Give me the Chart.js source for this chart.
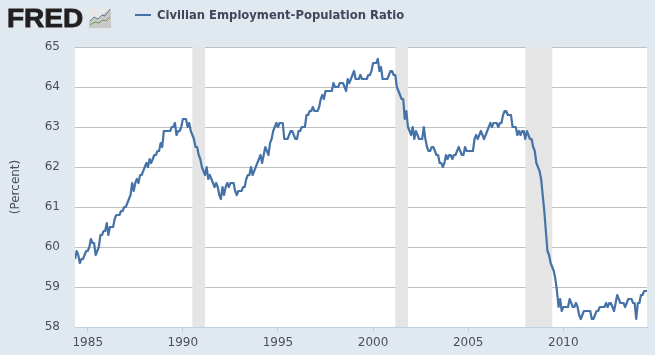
<!DOCTYPE html>
<html lang="en">
  <head>
    <meta charset="UTF-8" />
    <title>Civilian Employment-Population Ratio</title>
    <style>
      * {
        margin: 0;
        padding: 0;
        box-sizing: border-box;
      }

      body {
        width: 655px;
        height: 355px;
        background: #e1e9f0;
        overflow: hidden;
        position: relative;
      }

      #myChart {
        position: absolute;
        left: 0;
        top: 0;
      }

      .logo {
        position: absolute;
        left: 7px;
        top: 3px;
        font: bold 25px "Liberation Sans", sans-serif;
        line-height: 30px;
        color: #231f20;
        -webkit-text-stroke: 0.8px #231f20;
        transform: scaleX(1.12);
        transform-origin: left center;
      }

      .logoIcon {
        position: absolute;
        left: 89px;
        top: 8px;
      }

      .legend {
        position: absolute;
        left: 135px;
        top: 8px;
        height: 16px;
        line-height: 16px;
        font: bold 11.6px "DejaVu Sans", sans-serif;
        color: #45455a;
        white-space: nowrap;
      }

      .legend i {
        display: inline-block;
        width: 16px;
        height: 2px;
        background: #4572a7;
        vertical-align: 3px;
        margin-right: 6px;
      }
    </style>
  </head>
  <body>
    <canvas id="myChart" width="655" height="355"></canvas>
    <div class="logo">FRED</div>
    <svg class="logoIcon" width="22" height="20" viewBox="0 0 22 20">
      <rect width="22" height="20" fill="#e8e8e8" />
      <path d="M0 20V13L5 9 9 11 15 5 22 1V20Z" fill="#c9c9c9" />
      <path d="M1 13L5 9 9 11 13 7 16 8 21 1" fill="none" stroke="#5f7f9f" />
      <path d="M1 17L6 14 10 15 14 12 17 13 21 9" fill="none" stroke="#6f9a4f" />
    </svg>
    <div class="legend"><i></i>Civilian Employment-Population Ratio</div>

    <script src="https://cdn.jsdelivr.net/npm/chart.js"></script>
    <script>
      // first value is May 1984, one value per month
      const startYear = 1984;
      const startMonth = 4;
      const ratio1984 = [59.7, 59.9, 59.8, 59.6, 59.7, 59.7, 59.8, 59.9];
      const ratio1985 = [59.9, 60.0, 60.2, 60.1, 60.1, 59.8, 59.9, 60.0, 60.3, 60.3, 60.4, 60.4];
      const ratio1986 = [60.6, 60.3, 60.5, 60.5, 60.5, 60.7, 60.8, 60.8, 60.8, 60.9, 60.9, 61.0];
      const ratio1987 = [61.0, 61.1, 61.2, 61.3, 61.6, 61.4, 61.6, 61.7, 61.6, 61.8, 61.8, 61.9];
      const ratio1988 = [62.0, 62.1, 62.0, 62.2, 62.1, 62.2, 62.3, 62.3, 62.4, 62.4, 62.6, 62.5];
      const ratio1989 = [62.9, 62.9, 62.9, 62.9, 62.9, 63.0, 63.0, 63.1, 62.8, 62.9, 62.9, 63.0];
      const ratio1990 = [63.2, 63.2, 63.2, 63.0, 63.1, 62.9, 62.8, 62.7, 62.5, 62.5, 62.3, 62.2];
      const ratio1991 = [62.0, 61.9, 61.8, 62.0, 61.7, 61.8, 61.7, 61.6, 61.5, 61.6, 61.5, 61.3];
      const ratio1992 = [61.2, 61.5, 61.3, 61.5, 61.6, 61.5, 61.6, 61.6, 61.6, 61.4, 61.3, 61.4];
      const ratio1993 = [61.4, 61.4, 61.5, 61.5, 61.7, 61.8, 61.8, 62.0, 61.8, 61.9, 62.0, 62.1];
      const ratio1994 = [62.2, 62.3, 62.1, 62.3, 62.5, 62.4, 62.3, 62.6, 62.7, 62.9, 63.0, 63.1];
      const ratio1995 = [63.0, 63.1, 63.1, 63.1, 62.7, 62.7, 62.7, 62.8, 62.9, 62.9, 62.8, 62.7];
      const ratio1996 = [62.7, 62.9, 62.9, 63.0, 63.0, 63.0, 63.3, 63.3, 63.4, 63.4, 63.5, 63.4];
      const ratio1997 = [63.4, 63.4, 63.5, 63.7, 63.8, 63.7, 63.9, 63.9, 63.9, 63.9, 63.9, 64.1];
      const ratio1998 = [64.0, 64.0, 64.0, 64.1, 64.1, 64.1, 64.0, 63.9, 64.2, 64.1, 64.2, 64.3];
      const ratio1999 = [64.4, 64.2, 64.2, 64.2, 64.3, 64.2, 64.2, 64.2, 64.2, 64.3, 64.3, 64.4];
      const ratio2000 = [64.6, 64.6, 64.6, 64.7, 64.4, 64.5, 64.2, 64.2, 64.2, 64.2, 64.3, 64.4];
      const ratio2001 = [64.4, 64.3, 64.3, 64.0, 63.9, 63.8, 63.7, 63.7, 63.2, 63.4, 63.0, 62.9];
      const ratio2002 = [62.8, 63.0, 62.7, 62.9, 62.8, 62.7, 62.7, 62.7, 63.0, 62.7, 62.5, 62.4];
      const ratio2003 = [62.4, 62.5, 62.5, 62.4, 62.3, 62.3, 62.1, 62.1, 62.0, 62.1, 62.3, 62.2];
      const ratio2004 = [62.3, 62.3, 62.2, 62.3, 62.3, 62.4, 62.5, 62.4, 62.3, 62.3, 62.5, 62.4];
      const ratio2005 = [62.4, 62.4, 62.4, 62.4, 62.7, 62.8, 62.7, 62.8, 62.9, 62.8, 62.7, 62.8];
      const ratio2006 = [62.9, 63.0, 63.1, 63.0, 63.1, 63.1, 63.1, 63.0, 63.1, 63.1, 63.3, 63.4];
      const ratio2007 = [63.4, 63.3, 63.3, 63.3, 63.0, 63.0, 63.0, 62.8, 62.9, 62.8, 62.9, 62.9];
      const ratio2008 = [62.7, 62.9, 62.8, 62.7, 62.7, 62.5, 62.4, 62.1, 62.0, 61.9, 61.7, 61.3];
      const ratio2009 = [60.9, 60.4, 59.9, 59.8, 59.6, 59.5, 59.4, 59.2, 58.9, 58.5, 58.7, 58.4];
      const ratio2010 = [58.5, 58.5, 58.5, 58.5, 58.7, 58.6, 58.5, 58.5, 58.6, 58.5, 58.3, 58.2];
      const ratio2011 = [58.3, 58.4, 58.4, 58.4, 58.4, 58.4, 58.2, 58.2, 58.3, 58.4, 58.4, 58.5];
      const ratio2012 = [58.5, 58.5, 58.5, 58.6, 58.5, 58.6, 58.6, 58.5, 58.4, 58.6, 58.8, 58.7];
      const ratio2013 = [58.6, 58.6, 58.6, 58.5, 58.6, 58.7, 58.7, 58.7, 58.6, 58.6, 58.2, 58.6];
      const ratio2014 = [58.6, 58.8, 58.8, 58.9, 58.9, 58.9, 58.9];

      const ratioValues = [].concat(
        ratio1984, ratio1985, ratio1986, ratio1987, ratio1988, ratio1989,
        ratio1990, ratio1991, ratio1992, ratio1993, ratio1994, ratio1995,
        ratio1996, ratio1997, ratio1998, ratio1999, ratio2000, ratio2001,
        ratio2002, ratio2003, ratio2004, ratio2005, ratio2006, ratio2007,
        ratio2008, ratio2009, ratio2010, ratio2011, ratio2012, ratio2013,
        ratio2014
      );

      const xTicks = [1985, 1990, 1995, 2000, 2005, 2010];
      const yTicks = [58, 59, 60, 61, 62, 63, 64, 65];
      const recessionStarts = [1990.5, 2001.17, 2008.0];
      const recessionEnds = [1991.17, 2001.83, 2009.42];

      const points = ratioValues.map((v, i) => ({
        x: startYear + (startMonth + i) / 12,
        y: v,
      }));

      // white plot area, drawn under the grid
      const plotBackground = {
        id: "plotBackground",
        beforeDraw(chart) {
          const {
            ctx,
            chartArea: { top, left, width, height },
          } = chart;
          ctx.save();
          ctx.fillStyle = "#ffffff";
          ctx.fillRect(left, top, width, height);
          ctx.restore();
        },
      };

      const recessionBands = {
        id: "recessionBands",
        beforeDatasetsDraw(chart) {
          const {
            ctx,
            chartArea: { top, height },
            scales: { x },
          } = chart;
          ctx.save();
          ctx.fillStyle = "#e5e5e5";
          recessionStarts.forEach((start, i) => {
            const left = x.getPixelForValue(start);
            const right = x.getPixelForValue(recessionEnds[i]);
            ctx.fillRect(left, top, right - left, height);
          });
          ctx.restore();
        },
      };

      const ctx = document.getElementById("myChart");
      Chart.defaults.font.family = '"DejaVu Sans", sans-serif';

      new Chart(ctx, {
        type: "line",
        data: {
          datasets: [
            {
              data: points,
              borderColor: "#4572a7",
              borderWidth: 2.2,
              borderJoinStyle: "round",
              pointRadius: 0,
              tension: 0,
            },
          ],
        },
        options: {
          responsive: false,
          animation: false,
          layout: { padding: { left: 9, top: 47, right: 8, bottom: 0 } },
          plugins: {
            legend: { display: false },
            tooltip: { enabled: false },
          },
          scales: {
            x: {
              type: "linear",
              min: 1984.33,
              max: 2014.4,
              afterBuildTicks(axis) {
                axis.ticks = xTicks.map((v) => ({ value: v }));
              },
              afterFit(axis) {
                axis.height = 28;
              },
              grid: {
                drawOnChartArea: false,
                color: "#c0d0e0",
                tickLength: 5,
              },
              border: { color: "#c0d0e0" },
              ticks: {
                color: "#4d4d5c",
                font: { size: 12 },
                padding: 4,
                maxRotation: 0,
                callback: (v) => String(v),
              },
            },
            y: {
              min: 58,
              max: 65,
              afterBuildTicks(axis) {
                axis.ticks = yTicks.map((v) => ({ value: v }));
              },
              afterFit(axis) {
                axis.width = 66;
              },
              grid: {
                color: (c) => (c.tick.value === 58 ? "transparent" : "#c0c0c0"),
                drawTicks: false,
              },
              border: { display: false },
              ticks: { color: "#4d4d5c", font: { size: 12 }, padding: 15 },
              title: {
                display: true,
                text: "(Percent)",
                color: "#4d4d5c",
                font: { size: 12 },
                padding: 0,
              },
            },
          },
        },
        plugins: [plotBackground, recessionBands],
      });
    </script>
  </body>
</html>
